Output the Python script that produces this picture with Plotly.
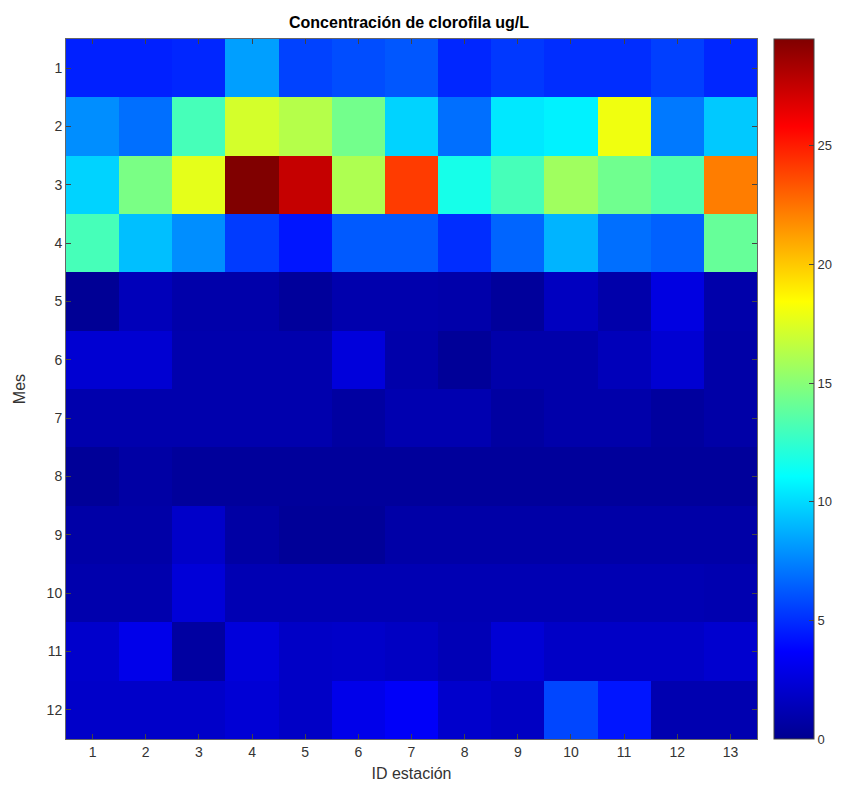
import plotly.graph_objects as go

estaciones = list(range(1, 14))
meses = list(range(1, 13))

mes1  = [4.6, 4.6, 4.8, 8.3, 5.6, 5.9, 6.2, 4.8, 5.3, 5.0, 5.0, 5.5, 4.8]
mes2  = [7.8, 6.9, 13.1, 17.2, 16.3, 14.4, 9.8, 6.9, 10.4, 10.7, 18.0, 7.2, 9.5]
mes3  = [9.8, 14.6, 17.7, 29.5, 27.5, 16.1, 24.1, 11.7, 13.1, 15.7, 14.3, 13.4, 22.2]
mes4  = [13.1, 9.2, 7.8, 5.4, 4.3, 6.3, 6.3, 5.0, 6.6, 8.9, 6.9, 6.5, 14.0]
mes5  = [0.2, 1.4, 0.9, 0.9, 0.4, 1.0, 1.0, 0.9, 0.4, 1.6, 0.9, 2.7, 0.9]
mes6  = [2.2, 2.2, 1.0, 1.0, 1.0, 2.5, 0.9, 0.3, 0.9, 0.9, 1.4, 2.2, 0.8]
mes7  = [1.0, 1.0, 1.0, 1.0, 1.0, 0.6, 1.1, 1.1, 0.6, 0.9, 0.9, 0.5, 0.8]
mes8  = [0.3, 0.7, 0.4, 0.4, 0.4, 0.4, 0.4, 0.4, 0.4, 0.4, 0.4, 0.4, 0.4]
mes9  = [0.8, 0.8, 1.9, 0.7, 0.3, 0.3, 0.8, 0.8, 0.8, 0.8, 0.8, 0.8, 0.8]
mes10 = [1.0, 1.0, 2.4, 1.2, 1.2, 1.2, 1.2, 1.2, 1.2, 1.2, 1.2, 1.2, 1.1]
mes11 = [2.0, 3.0, 0.6, 2.5, 1.8, 1.9, 1.7, 1.3, 2.3, 1.8, 1.8, 1.8, 2.1]
mes12 = [1.9, 1.9, 1.9, 2.3, 1.8, 3.0, 3.5, 2.0, 1.7, 5.7, 4.3, 1.1, 1.1]

z = [mes1, mes2, mes3, mes4, mes5, mes6, mes7, mes8, mes9, mes10, mes11, mes12]

jet = [
    [0.0, "rgb(0,0,143)"],
    [0.125, "rgb(0,0,255)"],
    [0.375, "rgb(0,255,255)"],
    [0.625, "rgb(255,255,0)"],
    [0.875, "rgb(255,0,0)"],
    [1.0, "rgb(128,0,0)"],
]

font = "Liberation Sans, Arial, sans-serif"

# page body has an 8px default margin; compensate
OFF = 8
W, H = 842 - OFF, 795 - OFF
L, T = 66 - OFF, 39 - OFF
R = W - (757 - OFF)
B = H - (739 - OFF)
pw = W - L - R

fig = go.Figure(go.Heatmap(
    z=z, x=estaciones, y=meses,
    colorscale=jet, zmin=0, zmax=29.5,
    colorbar=dict(
        x=(774 - OFF - L) / pw, xanchor="left", xpad=0, ypad=0,
        y=0.5, yanchor="middle", len=1, lenmode="fraction",
        thickness=40, outlinewidth=1, outlinecolor="#444",
        tickvals=[0, 5, 10, 15, 20, 25], ticks="inside", ticklen=5,
        tickcolor="#444", tickfont=dict(size=13, color="#333", family=font),
    ),
))

fig.update_layout(
    width=W, height=H,
    margin=dict(l=L, r=R, t=T, b=B, autoexpand=False),
    paper_bgcolor="white", plot_bgcolor="white",
    title=dict(text="<b>Concentración de clorofila ug/L</b>", x=(409 - OFF) / W, xanchor="center",
               xref="container",
               y=1 - (22 - OFF) / H, yanchor="middle",
               font=dict(size=16, color="black", family=font)),
    xaxis=dict(tickvals=estaciones, range=[0.5, 13.5], ticks="inside", ticklen=5,
               showline=True, linecolor="#666", mirror="ticks", showgrid=False, zeroline=False,
               automargin=False, tickcolor="#444",
               tickfont=dict(size=14, color="#333", family=font),
               title=dict(text="ID estación", font=dict(size=16, color="#333", family=font), standoff=9)),
    yaxis=dict(tickvals=meses, range=[12.5, 0.5], ticks="inside", ticklen=5,
               showline=True, linecolor="#666", mirror="ticks", showgrid=False, zeroline=False,
               automargin=False, tickcolor="#444",
               tickfont=dict(size=14, color="#333", family=font),
               title=dict(text="Mes", font=dict(size=16, color="#333", family=font), standoff=17)),
)

fig.write_html("out.html")
